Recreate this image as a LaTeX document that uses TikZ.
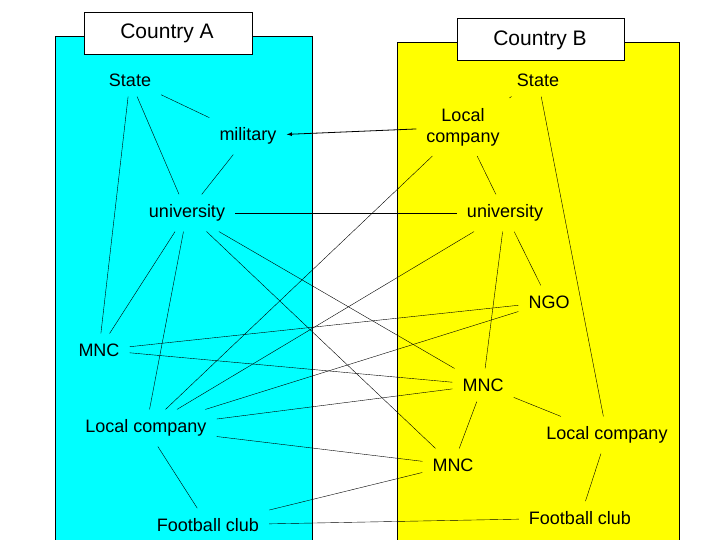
\documentclass[tikz,border=0pt]{standalone}
\usepackage{fontspec}
\setmainfont{Liberation Sans}
\usetikzlibrary{positioning}
\definecolor{cyanA}{rgb}{0,1,1}
\definecolor{yellowB}{rgb}{1,1,0}
\begin{document}
\begin{tikzpicture}[x=1pt,y=-1pt,% one unit is one pixel of the reference
			every node/.style={
				align=center,      % for the two-line label
				inner sep=10pt,
				font=\fontsize{18}{21}\selectfont
			},
			every edge/.style={draw,thin}
		]
		\useasboundingbox (0,0) rectangle (720,540);
		% the two countries
		\fill[cyanA,draw=black] (55,36) rectangle (312,545);
		\fill[yellowB,draw=black] (397,42) rectangle (679,545);
		\node[draw=black,fill=white,minimum width=168pt,minimum height=42pt,anchor=north west](CA) at (84,12) {};
		\node[font=\fontsize{21}{24}\selectfont] at (167,33) {Country A};
		\node[draw=black,fill=white,minimum width=167pt,minimum height=42pt,anchor=north west](CB) at (457,18) {};
		\node[font=\fontsize{21}{24}\selectfont] at (540,40) {Country B};
		% country A
		\node(SA) at (130,80) {State};
		\node(MIL) at (248,136) {military};
		\node(UA) at (187,213) {university};
		\node(MNCA) at (99,350) {MNC};
		\node(LCA) at (146,428) {Local company};
		\node(FCA) at (208,525) {Football club};
		% country B
		\node(SB) at (538,80) {State};
		\node(LCB) at (463,127) {Local\\company};
		\node(UB) at (505,213) {university};
		\node(NGO) at (549,302) {NGO};
		\node(MNCB) at (483,385) {MNC};
		\node(LCC) at (607,435) {Local company};
		\node(MNCC) at (453,465) {MNC};
		\node(FCB) at (580,518) {Football club};
		\path
		(SA)edge (MIL)
		(SA)edge (UA)
		(SA)edge (MNCA)
		(MIL)edge (UA)
		(UA)edge (UB)
		(UA)edge (MNCA)
		(UA)edge (LCA)
		(UA)edge (MNCB)
		(UA)edge (MNCC)
		(SB)edge (LCB)
		(SB)edge (LCC)
		(LCB)edge (UB)
		(LCB)edge (LCA)
		(UB)edge (NGO)
		(UB)edge (MNCB)
		(UB)edge (LCA)
		(NGO)edge (MNCA)
		(NGO)edge (LCA)
		(MNCA)edge (MNCB)
		(LCA)edge (MNCB)
		(LCA)edge (MNCC)
		(LCA)edge (FCA)
		(MNCB)edge (LCC)
		(MNCB)edge (MNCC)
		(LCC)edge (FCB)
		(MNCC)edge (FCA)
		(FCA)edge (FCB)
		;
		\draw[-latex,thick] (LCB) -- (MIL);
	\end{tikzpicture}
\end{document}
